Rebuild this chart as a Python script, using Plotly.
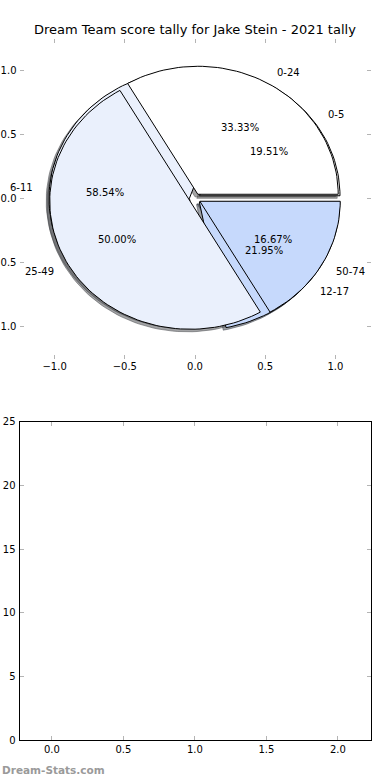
import math
import plotly.graph_objects as go

# ---------------- data ----------------
title_text = "Dream Team score tally for Jake Stein - 2021 tally"

# outer-range pie (drawn on top)
labels_a = ["0-24", "25-49", "50-74"]
values_a = [2, 3, 1]

# finer-range pie (drawn underneath)
labels_b = ["0-5", "6-11", "12-17"]
values_b = [8, 24, 9]

slice_colors = ["#ffffff", "#eaf0fc", "#c6d9fc"]

pie_ticks = [-1.0, -0.5, 0.0, 0.5, 1.0]
bar_xticks = [0.0, 0.5, 1.0, 1.5, 2.0]
bar_yticks = [0, 5, 10, 15, 20, 25]

watermark = "Dream-Stats.com"

# ---------------- style ----------------
EXPLODE = 0.04
SHADOW_OFF = -0.02
FONT = "DejaVu Sans"
TICK_GRAY = "#b4b4b4"


def hex_rgb(h):
    h = h.lstrip("#")
    return tuple(int(h[i:i + 2], 16) for i in (0, 2, 4))


def wedges(values):
    total = float(sum(values))
    out = []
    start = 0.0
    for v in values:
        frac = v / total
        t1, t2 = 360.0 * start, 360.0 * (start + frac)
        mid = math.radians((t1 + t2) / 2)
        cx, cy = EXPLODE * math.cos(mid), EXPLODE * math.sin(mid)
        n = max(8, int((t2 - t1) / 2))
        xs, ys = [cx], [cy]
        for i in range(n + 1):
            t = math.radians(t1 + (t2 - t1) * i / n)
            xs.append(cx + math.cos(t))
            ys.append(cy + math.sin(t))
        xs.append(cx)
        ys.append(cy)
        out.append(dict(xs=xs, ys=ys, cx=cx, cy=cy, mid=mid, pct=100 * frac))
        start += frac
    return out


fig = go.Figure()

wa = wedges(values_a)
wb = wedges(values_b)

# shadows (below all wedges)
for ws in (wb, wa):
    for w, col in zip(ws, slice_colors):
        r, g, b = hex_rgb(col)
        sc = "rgba(%d,%d,%d,0.5)" % (int(0.3 * r), int(0.3 * g), int(0.3 * b))
        fig.add_trace(go.Scatter(
            x=[x + SHADOW_OFF for x in w["xs"]], y=[y + SHADOW_OFF for y in w["ys"]],
            mode="lines", fill="toself", fillcolor=sc,
            line=dict(color=sc, width=1), hoverinfo="skip", showlegend=False,
            xaxis="x", yaxis="y"))

# wedges: finer pie first, outer pie on top
for ws, labs in ((wb, labels_b), (wa, labels_a)):
    for w, col, lab in zip(ws, slice_colors, labs):
        fig.add_trace(go.Scatter(
            x=w["xs"], y=w["ys"], mode="lines", fill="toself", fillcolor=col,
            line=dict(color="black", width=1), name=lab, showlegend=False,
            xaxis="x", yaxis="y"))

annotations = []
for ws, labs in ((wa, labels_a), (wb, labels_b)):
    for w, lab in zip(ws, labs):
        # outer label
        lx = w["cx"] + 1.1 * math.cos(w["mid"])
        ly = w["cy"] + 1.1 * math.sin(w["mid"])
        annotations.append(dict(
            x=lx, y=ly, xref="x", yref="y", text=lab, showarrow=False,
            xanchor="left" if lx > 0 else "right", yanchor="middle",
            font=dict(family=FONT, size=10, color="black")))
        # percentage
        px = w["cx"] + 0.6 * math.cos(w["mid"])
        py = w["cy"] + 0.6 * math.sin(w["mid"])
        annotations.append(dict(
            x=px, y=py, xref="x", yref="y", text="%.2f%%" % w["pct"],
            showarrow=False, xanchor="center", yanchor="middle",
            font=dict(family=FONT, size=10, color="black")))

annotations.append(dict(
    x=0.5, y=1 - 30 / 780, xref="paper", yref="paper", text=title_text,
    showarrow=False, xanchor="center", yanchor="middle",
    font=dict(family=FONT, size=13, color="black")))
annotations.append(dict(
    x=0.0, y=1 - 770 / 780, xref="paper", yref="paper", text="<b>%s</b>" % watermark,
    showarrow=False, xanchor="left", yanchor="middle",
    font=dict(family=FONT, size=10.5, color="#9a9a9a")))

# empty bar axes (bottom)
fig.add_trace(go.Bar(x=[], y=[], xaxis="x2", yaxis="y2", showlegend=False))

tickfont = dict(family=FONT, size=10, color="black")
common = dict(showgrid=False, zeroline=False, ticks="inside", ticklen=4,
              tickwidth=1, tickcolor=TICK_GRAY, tickfont=tickfont,
              fixedrange=True, automargin=False)

fig.update_layout(
    width=390, height=780,
    margin=dict(l=0, r=0, t=0, b=0, pad=0, autoexpand=False),
    paper_bgcolor="white", plot_bgcolor="white",
    showlegend=False,
    annotations=annotations,
    xaxis=dict(domain=[0.05, 0.95], anchor="y", range=[-1.25, 1.25],
               tickvals=pie_ticks, tickformat=".1f", showline=False,
               mirror="ticks", **common),
    yaxis=dict(domain=[1 - 358.7 / 780, 1 - 38.7 / 780], anchor="x",
               range=[-1.25, 1.25], tickvals=pie_ticks, tickformat=".1f",
               showline=False, mirror="ticks", ticklabelstandoff=2, **common),
    xaxis2=dict(domain=[0.05, 0.95], anchor="y2", range=[-0.227, 2.228],
                tickvals=bar_xticks, tickformat=".1f", showline=True,
                linecolor="black", linewidth=1, mirror="ticks", **common),
    yaxis2=dict(domain=[1 - 740 / 780, 1 - 421.7 / 780], anchor="x2",
                range=[0, 25], tickvals=bar_yticks, showline=True,
                linecolor="black", linewidth=1, mirror="ticks",
                ticklabelstandoff=1, **common),
)

fig.write_html("out.html", config={"displayModeBar": False},
               post_script="document.body.style.margin='0';document.body.style.padding='0';")
